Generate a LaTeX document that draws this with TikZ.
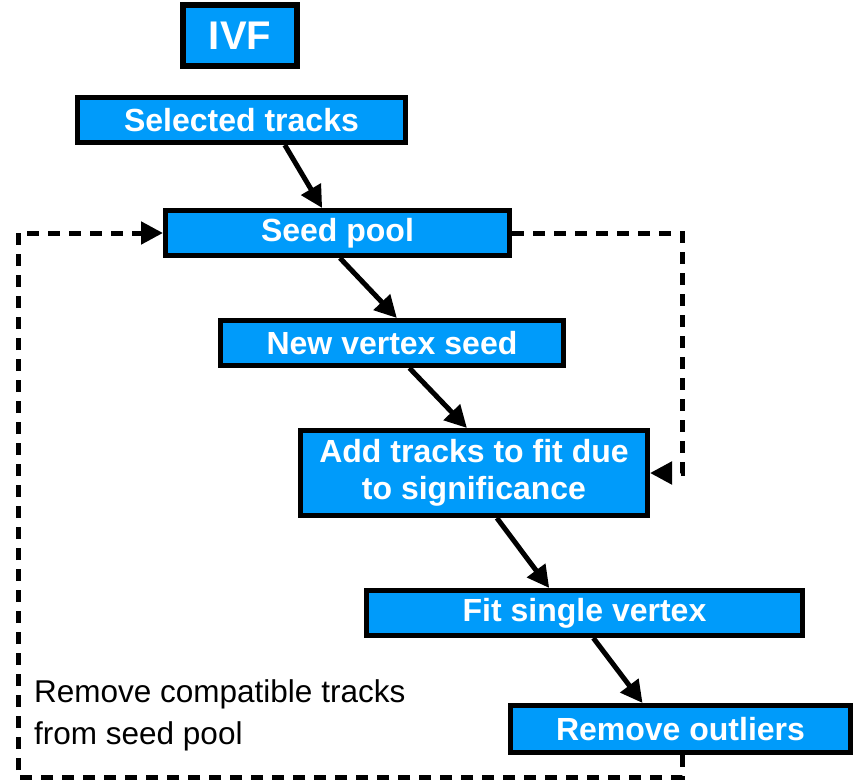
\documentclass[tikz,border=0pt]{standalone}
\usepackage{fontspec}
\setmainfont{Liberation Sans}
\usetikzlibrary{arrows.meta,calc}
\definecolor{boxblue}{RGB}{0,155,250}
\tikzset{
  stepbox/.style={draw=black, line width=5pt, fill=boxblue, inner sep=0pt,
    text=white, font=\fontsize{32}{37}\selectfont\bfseries, align=center},
  flow/.style={line width=5pt, -{Triangle[length=22pt,width=22pt]}},
  loop/.style={line width=5pt, dash pattern=on 12pt off 9pt},
  looparrow/.style={loop, -{Triangle[length=22pt,width=22pt]}},
}
\begin{document}
\begin{tikzpicture}[x=1pt,y=-1pt]
\useasboundingbox (0,0) rectangle (859,781);
% process boxes
\node[stepbox, line width=6pt, minimum width=114pt, minimum height=61pt,
  font=\fontsize{40}{46}\selectfont\bfseries] (ivf) at (240,36) {IVF};
\node[stepbox, minimum width=328pt, minimum height=45pt] (sel) at (241.5,120) {Selected tracks};
\node[stepbox, minimum width=344pt, minimum height=45pt] (seed) at (337.5,233) {Seed pool};
\node[stepbox, minimum width=343pt, minimum height=45pt] (nvs) at (392,343) {New vertex seed};
\node[stepbox, minimum width=347pt, minimum height=85pt] (add) at (474,473) {Add tracks to fit due\\to significance};
\node[stepbox, minimum width=436pt, minimum height=45pt] (fit) at (584.5,613) {Fit single vertex};
\node[stepbox, minimum width=340pt, minimum height=47pt] (rem) at (680.5,729) {Remove outliers};
% main flow
\draw[flow] ($(sel.south west)!0.63!(sel.south east)$) -- ($(seed.north west)!0.456!(seed.north east)$);
\draw[flow] ($(seed.south west)!0.507!(seed.south east)$) -- ($(nvs.north west)!0.514!(nvs.north east)$);
\draw[flow] ($(nvs.south west)!0.55!(nvs.south east)$) -- ($(add.north west)!0.48!(add.north east)$);
\draw[flow] ($(add.south west)!0.565!(add.south east)$) -- ($(fit.north west)!0.42!(fit.north east)$);
\draw[flow] ($(fit.south west)!0.52!(fit.south east)$) -- ($(rem.north west)!0.39!(rem.north east)$);
% feedback loops
\coordinate (rx) at (682,0);
\coordinate (lx) at (18,0);
\coordinate (by) at (0,777);
\draw[looparrow] (rem.south -| rx) -- (by -| rx) -- (by -| lx) -- (seed.west -| lx) -- (seed.west);
\draw[looparrow] (seed.east) -- (seed.east -| rx) -- (add.east -| rx) -- (add.east);
% annotation
\node[anchor=north west, align=left, inner sep=0pt,
  font=\fontsize{31.5}{42}\selectfont] (note) at (34,679) {Remove compatible tracks\\from seed pool};
\end{tikzpicture}
\end{document}
